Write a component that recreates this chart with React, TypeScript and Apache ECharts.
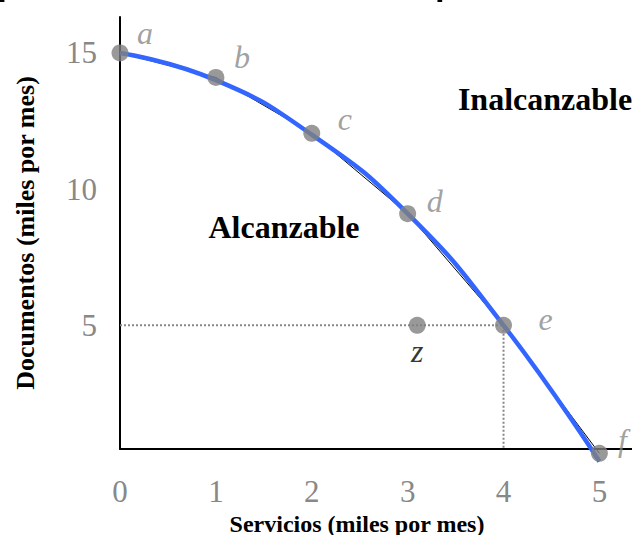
import React, { useEffect, useRef } from "react";
import * as echarts from "echarts";

// ---- data ----
const pointNames = ["a", "b", "c", "d", "e", "f"];
const servicios = [0, 1, 2, 3, 4, 5];
const documentos = [15, 14.1, 12.05, 9.1, 5, 0.3];
const curveServicios = [0, 1, 2, 3, 4, 5];
const curveDocumentos = [15, 14.0, 12.0, 9.1, 5, 0];
const zPoint = { name: "z", x: 3.1, y: 5 };
const guideX = [0, 4, 4];
const guideY = [5, 5, 0.46];
const xTickValues = [0, 1, 2, 3, 4, 5];
const yTickValues = [5, 10, 15];
const xTitle = "Servicios (miles por mes)";
const yTitle = "Documentos (miles por mes)";
const titleText = "posibilidades de producción";
const reachable = "Alcanzable";
const unreachable = "Inalcanzable";

// ---- styling (offsets of point labels, px) ----
const labelOffsets: Record<string, [number, number]> = {
  a: [25, -20],
  b: [26, -20],
  c: [33, -14],
  d: [27, -13],
  e: [42, -6],
  f: [23, -13],
  z: [0, 26],
};

const SERIF = '"Liberation Serif", "Times New Roman", serif';

export default function App() {
  const ref = useRef<HTMLDivElement>(null);
  useEffect(() => {
    if (!ref.current) return;
    const chart = echarts.init(ref.current, null, { renderer: "svg" });
    const dotData = pointNames.map((n, i) => ({
      name: n,
      value: [servicios[i], documentos[i]],
      label: { offset: labelOffsets[n] },
    }));
    const option: any = {
      animation: false,
      backgroundColor: "#ffffff",
      grid: { left: 120, right: 0, top: 17, bottom: 86, outerBoundsMode: "none", containLabel: false },
      xAxis: {
        type: "value",
        min: 0,
        max: 5.34,
        name: xTitle,
        nameLocation: "middle",
        nameGap: 56,
        nameTextStyle: {
          fontFamily: SERIF,
          fontWeight: "bold",
          fontSize: 24,
          color: "#000",
          padding: [0, 38, 0, 0],
        },
        axisLine: { show: true, lineStyle: { color: "#000", width: 2 } },
        axisTick: { show: false },
        splitLine: { show: false },
        axisLabel: {
          customValues: xTickValues,
          color: "#888",
          fontFamily: SERIF,
          fontSize: 31,
          margin: 27,
        },
      },
      yAxis: {
        type: "value",
        min: 0.46,
        max: 16.32,
        name: yTitle,
        nameLocation: "middle",
        nameGap: 82,
        nameRotate: 90,
        nameTextStyle: { fontFamily: SERIF, fontWeight: "bold", fontSize: 26, color: "#000" },
        axisLine: { show: true, lineStyle: { color: "#000", width: 2 } },
        axisTick: { show: false },
        splitLine: { show: false },
        axisLabel: {
          customValues: yTickValues,
          color: "#888",
          fontFamily: SERIF,
          fontSize: 31,
          margin: 23,
        },
      },
      series: [
        {
          type: "line",
          data: guideX.map((x, i) => [x, guideY[i]]),
          symbol: "none",
          clip: false,
          lineStyle: { color: "#888", width: 2, type: "dotted" },
          z: 1,
        },
        {
          type: "line",
          data: servicios.map((x, i) => [x, documentos[i]]),
          symbol: "none",
          clip: false,
          lineStyle: { color: "#000", width: 1 },
          z: 2,
        },
        {
          type: "line",
          data: curveServicios.map((x, i) => [x, curveDocumentos[i]]),
          symbol: "none",
          smooth: true,
          clip: false,
          lineStyle: { color: "#3366ff", width: 4.5 },
          z: 3,
        },
        {
          type: "scatter",
          data: [
            ...dotData,
            {
              name: zPoint.name,
              value: [zPoint.x, zPoint.y],
              label: { offset: labelOffsets.z, color: "#000" },
            },
          ],
          symbolSize: 17,
          clip: false,
          itemStyle: { color: "#808080" },
          label: {
            show: true,
            position: "inside",
            formatter: (p: any) => p.name,
            fontFamily: SERIF,
            fontStyle: "italic",
            fontSize: 32,
            color: "#888",
          },
          z: 4,
        },
      ],
      graphic: [
        {
          type: "text",
          x: -5,
          y: -27,
          style: {
            text: titleText,
            fontFamily: '"DejaVu Sans"',
            fontSize: 52,
            fill: "#000",
            align: "left",
            verticalAlign: "middle",
          },
        },
        {
          type: "text",
          x: 284,
          y: 227,
          style: {
            text: reachable,
            fontFamily: SERIF,
            fontWeight: "bold",
            fontSize: 32,
            fill: "#000",
            align: "center",
            verticalAlign: "middle",
          },
        },
        {
          type: "text",
          x: 545,
          y: 99,
          style: {
            text: unreachable,
            fontFamily: SERIF,
            fontWeight: "bold",
            fontSize: 32,
            fill: "#000",
            align: "center",
            verticalAlign: "middle",
          },
        },
      ],
    };
    chart.setOption(option);
    return () => chart.dispose();
  }, []);
  return (
    <div
      ref={ref}
      style={{ position: "fixed", left: 0, top: 0, width: 632, height: 535 }}
    />
  );
}
